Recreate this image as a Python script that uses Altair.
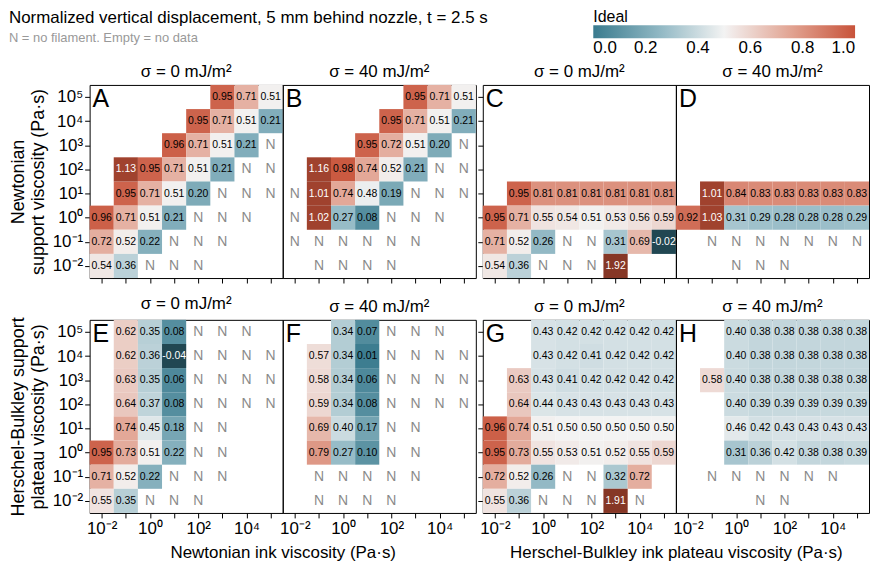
import altair as alt
import pandas as pd

N = "N"
_ = None

# column exponents (ink viscosity 10^-2 ... 10^5), row exponents top -> bottom
exps = [-2, -1, 0, 1, 2, 3, 4, 5]
row_exps = [5, 4, 3, 2, 1, 0, -1, -2]
tick_labels = ["10⁻²", "10⁻¹", "10⁰", "10¹", "10²", "10³", "10⁴", "10⁵"]

panel_A = [
    [_, _, _, _, _, 0.95, 0.71, 0.51],
    [_, _, _, _, 0.95, 0.71, 0.51, 0.21],
    [_, _, _, 0.96, 0.71, 0.51, 0.21, N],
    [_, 1.13, 0.95, 0.71, 0.51, 0.21, N, N],
    [_, 0.95, 0.71, 0.51, 0.20, N, N, N],
    [0.96, 0.71, 0.51, 0.21, N, N, N, _],
    [0.72, 0.52, 0.22, N, N, N, _, _],
    [0.54, 0.36, N, N, N, _, _, _],
]
panel_B = [
    [_, _, _, _, _, 0.95, 0.71, 0.51],
    [_, _, _, _, 0.95, 0.71, 0.51, 0.21],
    [_, _, _, 0.95, 0.72, 0.51, 0.20, N],
    [_, 1.16, 0.98, 0.74, 0.52, 0.21, N, N],
    [N, 1.01, 0.74, 0.48, 0.19, N, N, N],
    [N, 1.02, 0.27, 0.08, N, N, N, _],
    [N, N, N, N, N, N, _, _],
    [_, N, N, N, N, _, _, _],
]
panel_C = [
    [_, _, _, _, _, _, _, _],
    [_, _, _, _, _, _, _, _],
    [_, _, _, _, _, _, _, _],
    [_, _, _, _, _, _, _, _],
    [_, 0.95, 0.81, 0.81, 0.81, 0.81, 0.81, 0.81],
    [0.95, 0.71, 0.55, 0.54, 0.51, 0.53, 0.56, 0.59],
    [0.71, 0.52, 0.26, N, N, 0.31, 0.69, -0.02],
    [0.54, 0.36, N, N, N, 1.92, _, _],
]
panel_D = [
    [_, _, _, _, _, _, _, _],
    [_, _, _, _, _, _, _, _],
    [_, _, _, _, _, _, _, _],
    [_, _, _, _, _, _, _, _],
    [_, 1.01, 0.84, 0.83, 0.83, 0.83, 0.83, 0.83],
    [0.92, 1.03, 0.31, 0.29, 0.28, 0.28, 0.28, 0.29],
    [_, N, N, N, N, N, N, N],
    [_, _, N, N, N, _, _, _],
]
panel_E = [
    [_, 0.62, 0.35, 0.08, N, N, N, _],
    [_, 0.62, 0.36, -0.04, N, N, N, N],
    [_, 0.63, 0.35, 0.06, N, N, N, N],
    [_, 0.64, 0.37, 0.08, N, N, N, N],
    [_, 0.74, 0.45, 0.18, N, N, _, _],
    [0.95, 0.73, 0.51, 0.22, N, N, _, _],
    [0.71, 0.52, 0.22, N, N, N, _, _],
    [0.55, 0.35, N, N, N, _, _, _],
]
panel_F = [
    [_, _, 0.34, 0.07, N, N, N, _],
    [_, 0.57, 0.34, 0.01, N, N, N, N],
    [_, 0.58, 0.34, 0.06, N, N, N, N],
    [_, 0.59, 0.34, 0.08, N, N, N, N],
    [_, 0.69, 0.40, 0.17, N, N, _, _],
    [_, 0.79, 0.27, 0.10, N, N, _, _],
    [_, N, N, N, N, N, _, _],
    [_, N, N, N, N, _, _, _],
]
panel_G = [
    [_, _, 0.43, 0.42, 0.42, 0.42, 0.42, 0.42],
    [_, _, 0.43, 0.42, 0.41, 0.42, 0.42, 0.42],
    [_, 0.63, 0.43, 0.41, 0.42, 0.42, 0.42, 0.42],
    [_, 0.64, 0.44, 0.43, 0.43, 0.43, 0.43, 0.43],
    [0.96, 0.74, 0.51, 0.50, 0.50, 0.50, 0.50, 0.50],
    [0.95, 0.73, 0.55, 0.53, 0.51, 0.52, 0.55, 0.59],
    [0.72, 0.52, 0.26, N, N, 0.32, 0.72, _],
    [0.55, 0.36, N, N, N, 1.91, N, _],
]
panel_H = [
    [_, _, 0.40, 0.38, 0.38, 0.38, 0.38, 0.38],
    [_, _, 0.40, 0.38, 0.38, 0.38, 0.38, 0.38],
    [_, 0.58, 0.40, 0.38, 0.38, 0.38, 0.38, 0.38],
    [_, _, 0.40, 0.39, 0.39, 0.39, 0.39, 0.39],
    [_, _, 0.46, 0.42, 0.43, 0.43, 0.43, 0.43],
    [_, _, 0.31, 0.36, 0.42, 0.38, 0.38, 0.39],
    [_, N, N, N, N, N, N, _],
    [_, _, _, N, N, _, _, _],
]

letters = ["A", "B", "C", "D", "E", "F", "G", "H"]
grids = [panel_A, panel_B, panel_C, panel_D, panel_E, panel_F, panel_G, panel_H]
panel_titles = ["σ = 0 mJ/m²", "σ = 40 mJ/m²"] * 4
x_titles = ["Newtonian ink viscosity (Pa·s)", "Herschel-Bulkley ink plateau viscosity (Pa·s)"]
y_titles = [["Newtonian", "support viscosity (Pa·s)"],
            ["Herschel-Bulkley support", "plateau viscosity (Pa·s)"]]
legend_values = [0.0, 0.2, 0.4, 0.6, 0.8, 1.0]

records = []
for key, grid in zip(letters, grids):
    for ry, rowvals in zip(row_exps, grid):
        for cx, val in zip(exps, rowvals):
            if val is None:
                continue
            if val == N:
                records.append(dict(panel=key, x=cx, y=ry, v=None, label="N", kind="N"))
            else:
                records.append(dict(panel=key, x=cx, y=ry, v=val, label=f"{val:.2f}", kind="val"))
df = pd.DataFrame(records)

FONT = "Liberation Sans"
W = 194
arr = "[" + ",".join(f"'{t}'" for t in tick_labels) + "]"
x_label_expr = f"datum.value % 2 == 0 ? {arr}[datum.value + 2] : ''"
y_label_expr = f"{arr}[datum.value + 2]"

color_scale = alt.Scale(domain=[0, 0.25, 0.5, 0.75, 1.0],
                        range=["#3a7b8e", "#8fb7c3", "#f3f3f3", "#e2a594", "#c8533a"],
                        clamp=True, interpolate="rgb")
legend = alt.Legend(orient="none", legendX=506, legendY=-76, direction="horizontal",
                    gradientLength=263, gradientThickness=13, title="Ideal",
                    titleFontSize=16, titleFontWeight="normal", labelFontSize=17,
                    values=legend_values, format=".1f", titleAnchor="start",
                    titleOrient="top", titlePadding=0, labelOffset=2, labelAlign="center")


def make_panel(idx):
    key = letters[idx]
    r, c = divmod(idx, 4)
    xa = dict(values=exps, tickSize=5, labels=(r == 1), labelExpr=x_label_expr,
              labelFontSize=17, labelPadding=3)
    if r == 1 and c in (0, 2):
        xa.update(title=x_titles[c // 2], titleX=W, titleAlign="center",
                  titleFontSize=17, titlePadding=8)
    else:
        xa.update(title=None)
    xaxis = alt.Axis(**xa)
    if c == 0:
        yaxis = alt.Axis(values=exps, tickSize=5, labelExpr=y_label_expr, labelFontSize=17,
                         labelPadding=2, title=y_titles[r], titleFontSize=18, titlePadding=5)
    elif c == 2:
        yaxis = alt.Axis(values=exps, tickSize=5, labels=False, title=None)
    else:
        yaxis = None
    sx = alt.Scale(domain=[-2.5, 5.5], nice=False, zero=False)
    sy = alt.Scale(domain=[-2.5, 5.5], nice=False, zero=False)

    base = alt.Chart(df).transform_filter(alt.datum.panel == key)
    cells = base.transform_filter("datum.kind == 'val'").transform_calculate(
        x0="datum.x - 0.5", x1="datum.x + 0.5", y0="datum.y - 0.5", y1="datum.y + 0.5")
    rect = cells.mark_rect().encode(
        x=alt.X("x0:Q", scale=sx, axis=xaxis), x2="x1:Q",
        y=alt.Y("y0:Q", scale=sy, axis=yaxis), y2="y1:Q",
        color=alt.Color("v:Q", scale=color_scale, legend=legend))
    dark = cells.transform_filter("datum.v > 1 || datum.v < 0").transform_calculate(
        dk="datum.v > 1.5 ? 0.33 : (datum.v > 1 ? 0.2 : 0.42)").mark_rect(color="black").encode(
        x=alt.X("x0:Q", scale=sx, axis=xaxis), x2="x1:Q",
        y=alt.Y("y0:Q", scale=sy, axis=yaxis), y2="y1:Q",
        opacity=alt.Opacity("dk:Q", scale=None))
    txt = base.transform_filter("datum.kind == 'val'").mark_text(fontSize=10.5, font=FONT).encode(
        x=alt.X("x:Q", scale=sx, axis=xaxis), y=alt.Y("y:Q", scale=sy, axis=yaxis),
        text="label:N",
        color=alt.condition("datum.v > 1 || datum.v < 0", alt.value("white"), alt.value("black")))
    ntxt = base.transform_filter("datum.kind == 'N'").mark_text(fontSize=14, color="#8a8a8a", font=FONT).encode(
        x=alt.X("x:Q", scale=sx, axis=xaxis), y=alt.Y("y:Q", scale=sy, axis=yaxis),
        text="label:N")
    let = alt.Chart(pd.DataFrame({"letter": [key]})).mark_text(
        align="left", baseline="middle", fontSize=25, font=FONT, color="black").encode(
        x=alt.value(3), y=alt.value(14), text="letter:N")
    return alt.layer(rect, dark, txt, ntxt, let).properties(
        width=W, height=W,
        title=alt.TitleParams(panel_titles[idx], fontSize=17, fontWeight="normal", offset=4, font=FONT))


def spacer():
    return alt.Chart(pd.DataFrame({"s": [0]})).mark_point(opacity=0).encode(
        x=alt.value(0), y=alt.value(0)).properties(
        width=7, height=W, view=alt.ViewBackground(stroke="transparent"))


p = [make_panel(i) for i in range(8)]
cells_order = [p[0], p[1], spacer(), p[2], p[3], p[4], p[5], spacer(), p[6], p[7]]

chart = alt.concat(*cells_order, columns=5, spacing=alt.RowColnumber(row=42, column=0),
                   bounds="flush").properties(
    padding=0,
    title=alt.TitleParams("Normalized vertical displacement, 5 mm behind nozzle, t = 2.5 s",
                          subtitle="N = no filament. Empty = no data", anchor="start", frame="bounds",
                          fontSize=17, fontWeight="normal", subtitleFontSize=13,
                          subtitleColor="#999999", color="black", offset=-37, font=FONT,
                          subtitleFont=FONT, subtitlePadding=5)
).resolve_scale(color="shared").configure(font=FONT).configure_view(
    stroke="black", strokeWidth=1
).configure_axis(domain=False, grid=False, tickColor="black", labelColor="black",
                 titleColor="black", titleFontWeight="normal", labelFont=FONT, titleFont=FONT
).configure_legend(labelFont=FONT, titleFont=FONT, labelColor="black", titleColor="black")

chart.save("out.html", embed_options={"renderer": "svg", "actions": False})
